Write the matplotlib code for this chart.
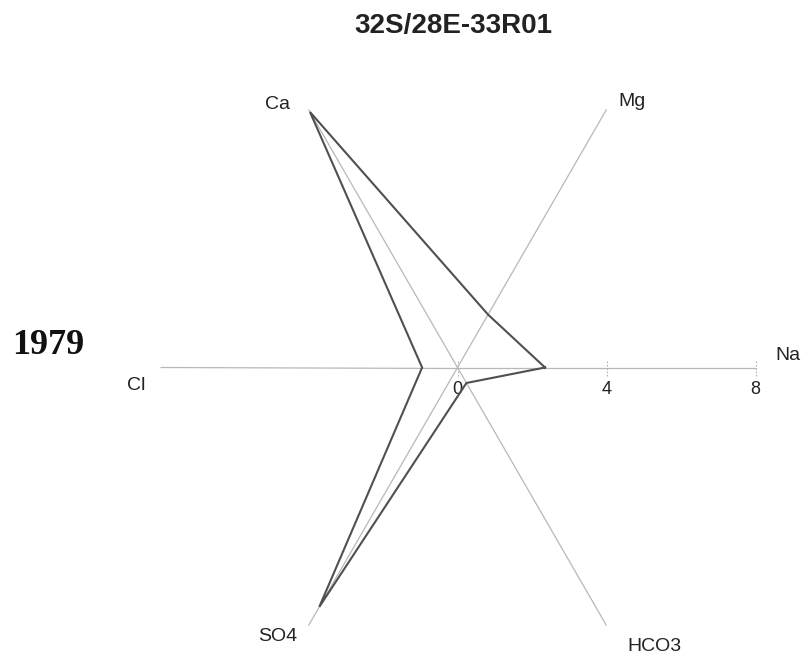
import numpy as np
import matplotlib
matplotlib.use("Agg")
import matplotlib.pyplot as plt

# Ion concentrations (meq/L) on the six radial axes
ions = ["Na", "Mg", "Ca", "Cl", "SO4", "HCO3"]
values = [2.35, 1.64, 7.92, 0.95, 7.42, 0.48]
angles_deg = [0, 60, 120, 180, 240, 300]
axis_max = 8
tick_values = [0, 4, 8]
title = "32S/28E-33R01"
year_label = "1979"

# label anchor points (x, y) in axis units
label_pos = {
    "Na": (8.87, 0.31),
    "Mg": (4.68, 7.15),
    "Ca": (-4.82, 7.05),
    "Cl": (-8.63, -0.47),
    "SO4": (-4.82, -7.21),
    "HCO3": (5.30, -7.48),
}

W, H = 804, 659
px_per_unit = 37.25
cx, cy = 457.5, 367.5

fig = plt.figure(figsize=(W / 100, H / 100), dpi=100)
ax = fig.add_axes([0, 0, 1, 1])
ax.set_xlim(-cx / px_per_unit, (W - cx) / px_per_unit)
ax.set_ylim(-(H - cy) / px_per_unit, cy / px_per_unit)
ax.axis("off")

theta = np.deg2rad(angles_deg)
ux, uy = np.cos(theta), np.sin(theta)

# radial axes
for x, y in zip(ux, uy):
    ax.plot([0, axis_max * x], [0, axis_max * y], color="#b8b8b8", lw=0.9,
            zorder=1, solid_capstyle="butt")

# tick marks and labels along the Na axis
tick_half = 8 / px_per_unit
for t in tick_values:
    ax.plot([t, t], [-tick_half, tick_half], color="#b0b0b0", lw=0.8,
            ls=(0, (1.5, 1.5)), zorder=1)
    ax.text(t, -0.58, str(t), ha="center", va="center", fontsize=13,
            family="Liberation Sans", color="#222222")

# data polygon
vals = np.array(values)
px = np.append(vals * ux, vals[0] * ux[0])
py = np.append(vals * uy, vals[0] * uy[0])
ax.plot(px, py, color="#505050", lw=1.5, zorder=3, solid_joinstyle="miter")

for name in ions:
    x, y = label_pos[name]
    ax.text(x, y, name, ha="center", va="center", fontsize=14,
            family="Liberation Sans", color="#222222")

ax.text((453 - cx) / px_per_unit, (cy - 26) / px_per_unit, title,
        ha="center", va="center", fontsize=20, fontweight="bold",
        family="Liberation Sans", color="#222222")
ax.text((48 - cx) / px_per_unit, (cy - 346) / px_per_unit, year_label,
        ha="center", va="center", fontsize=26, fontweight="bold",
        family="Liberation Serif", color="#111111")

fig.savefig("out.png", dpi=100)
